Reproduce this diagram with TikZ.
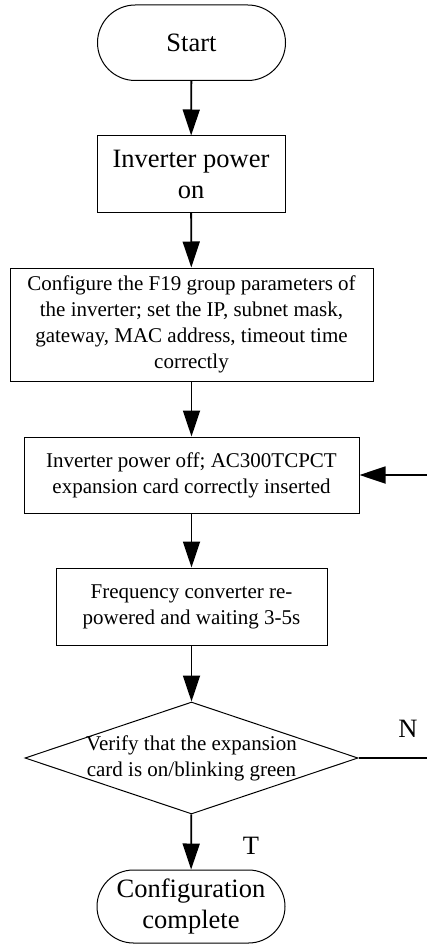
\documentclass[tikz,border=0pt]{standalone}
\usepackage{fontspec}
\setmainfont{Liberation Serif}
\usetikzlibrary{arrows.meta,shapes.geometric,shapes.misc}
\begin{document}
\begin{tikzpicture}[x=1pt,y=-1pt,
  big/.style={font=\fontsize{26.5}{31}\selectfont},
  small/.style={font=\fontsize{21}{26}\selectfont},
  box/.style={draw, line width=1pt, inner sep=0pt, align=center, small},
  pill/.style={draw, line width=1pt, rounded rectangle, inner sep=0pt, align=center, big},
  decision/.style={draw, line width=1pt, diamond, inner sep=0pt},
  arr/.style={line width=1.8pt, -{Triangle[length=26pt,width=17pt]}},
  plain/.style={line width=1.8pt},
  ]
\useasboundingbox (0,0) rectangle (427,944);
\node[pill, minimum width=188pt, minimum height=75.5pt] (start) at (191.5,42.75) {Start};
\node[box, big, minimum width=188pt, minimum height=76pt] (b1) at (191,174) {Inverter power\\on};
\node[box, minimum width=363pt, minimum height=113pt] (b2) at (191.5,324.5) {Configure the F19 group parameters of\\the inverter; set the IP, subnet mask,\\gateway, MAC address, timeout time\\correctly};
\node[box, minimum width=335pt, minimum height=76pt] (b3) at (191.5,475) {Inverter power off; AC300TCPCT\\expansion card correctly inserted};
\node[box, minimum width=271pt, minimum height=77pt] (b4) at (191.5,606.5) {Frequency converter re-\\powered and waiting 3-5s};
\node[decision, minimum width=333pt, minimum height=112pt] (dec) at (191.5,758) {};
\node[small, align=center, inner sep=0pt] (dectext) at (191.5,758) {Verify that the expansion\\card is on/blinking green};
\node[pill, minimum width=188pt, minimum height=73pt] (end) at (191,906.5) {Configuration\\complete};
\coordinate (nout) at (427,758);
\coordinate (nin) at (427,475);
\node[big, inner sep=0pt] (nlab) at (408,729) {N};
\node[big, inner sep=0pt] (tlab) at (251,846) {T};
\draw[arr] (start) -- (b1);
\draw[arr] (b1) -- (b2);
\draw[arr] (b2) -- (b3);
\draw[arr] (b3) -- (b4);
\draw[arr] (b4) -- (dec);
\draw[arr] (dec) -- (end);
\draw[plain] (dec.east) -- (nout);
\draw[arr] (nin) -- (b3.east);
\end{tikzpicture}
\end{document}
